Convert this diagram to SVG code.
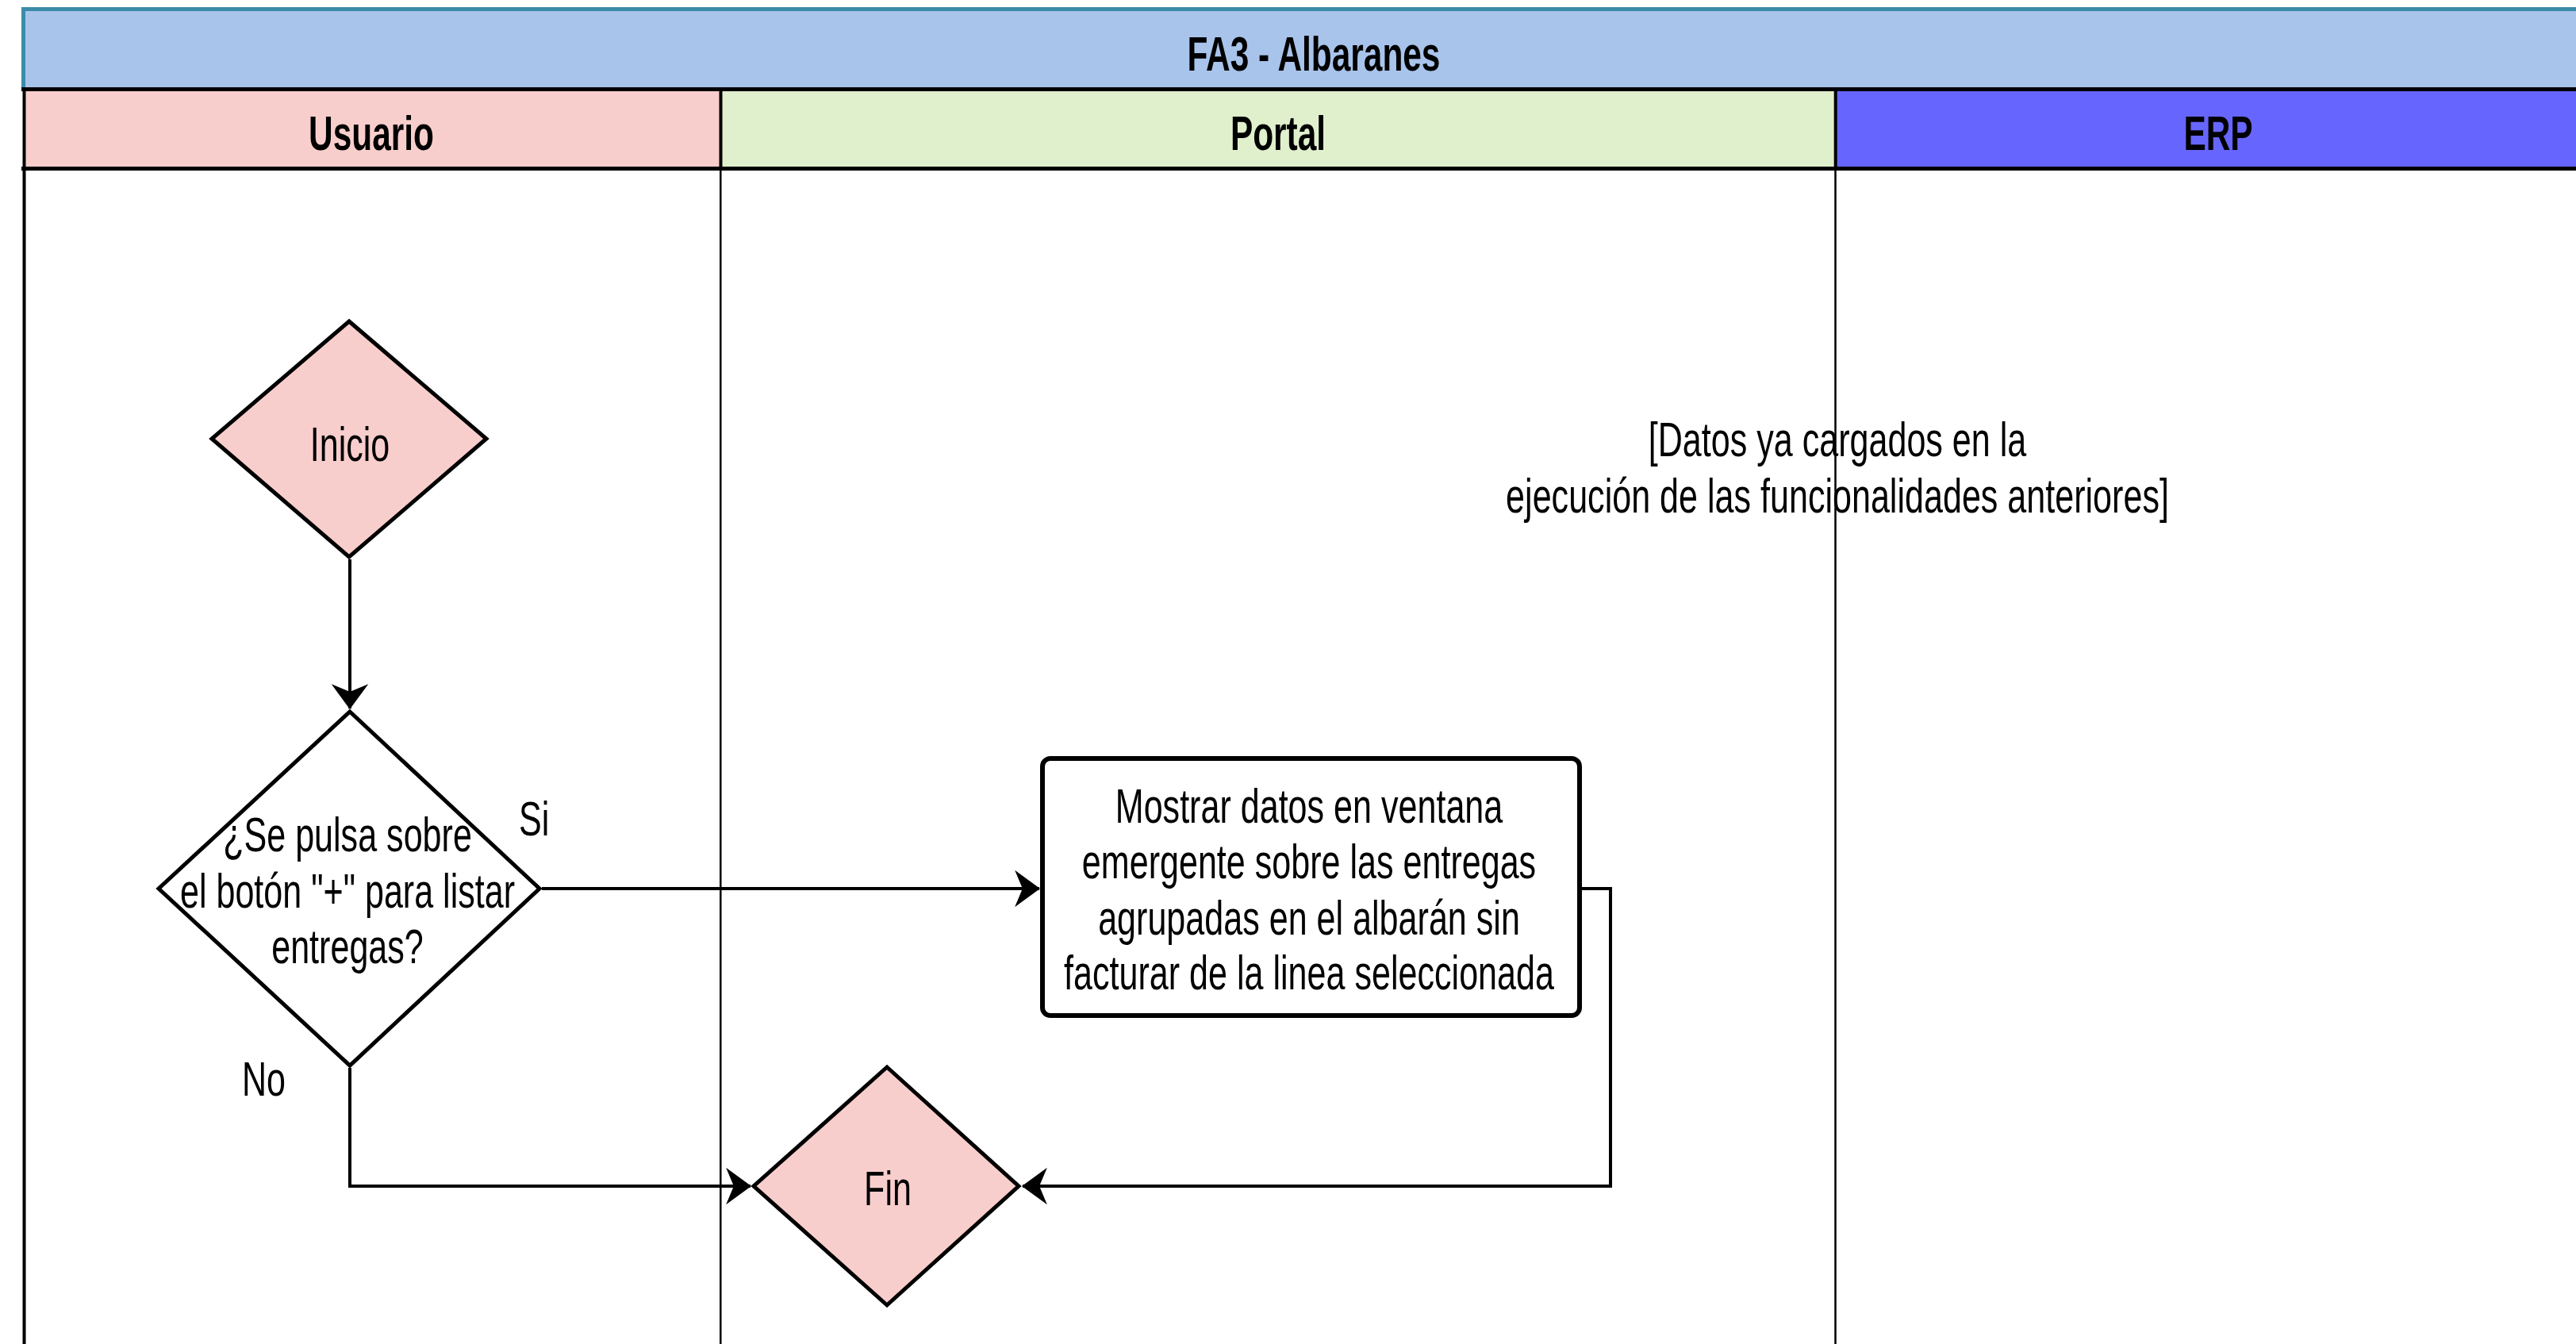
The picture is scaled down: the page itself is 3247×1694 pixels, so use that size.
<svg xmlns="http://www.w3.org/2000/svg" width="3247" height="1694" viewBox="0 0 3247 1694">
<style>
.t{font-family:"Liberation Sans",Arial,sans-serif;font-size:62px;fill:#000;text-anchor:middle}
.b{font-weight:bold}
.ln{stroke:#000;fill:none}
.con{stroke:#000;stroke-width:4;fill:none}
.dia{stroke:#000;stroke-width:5;stroke-linejoin:miter}
</style>
<defs>
<marker id="arr" markerUnits="userSpaceOnUse" markerWidth="40" markerHeight="50" viewBox="-30 -22 32 44" refX="0" refY="0" orient="auto">
<path d="M0,0 L-26,-19 L-18,0 L-26,19 Z" fill="#000" stroke="#000" stroke-width="1"/>
</marker>
</defs>
<rect width="3247" height="1694" fill="#fff"/>
<g id="pool">
<rect x="29.5" y="11.5" width="3260" height="101" fill="#A9C4EB" stroke="#3A8CA8" stroke-width="5"/>
<rect x="29.5" y="112.5" width="879" height="100" fill="#F8CECC"/>
<rect x="908.5" y="112.5" width="1405" height="100" fill="#E0EFCC"/>
<rect x="2313.5" y="112.5" width="980" height="100" fill="#6666FF"/>
<line class="ln" x1="27" y1="112.5" x2="3247" y2="112.5" stroke-width="5"/>
<line class="ln" x1="27" y1="212.5" x2="3247" y2="212.5" stroke-width="5"/>
<line class="ln" x1="30.5" y1="112" x2="30.5" y2="1694" stroke-width="4"/>
<line class="ln" x1="908.5" y1="112" x2="908.5" y2="213" stroke-width="4"/>
<line class="ln" x1="908.3" y1="213" x2="908.3" y2="1694" stroke-width="2.5"/>
<line class="ln" x1="2313.7" y1="112" x2="2313.7" y2="213" stroke-width="4"/>
<line class="ln" x1="2313.5" y1="213" x2="2313.5" y2="1694" stroke-width="2.5"/>
<text class="t b" transform="translate(1656,89) scale(0.684,1)">FA3 - Albaranes</text>
<text class="t b" transform="translate(468,189) scale(0.684,1)">Usuario</text>
<text class="t b" transform="translate(1611,189) scale(0.684,1)">Portal</text>
<text class="t b" transform="translate(2796,189) scale(0.684,1)">ERP</text>
</g>
<g id="connectors">
<path class="con" d="M441,705 L441,893" marker-end="url(#arr)"/>
<path class="con" d="M683,1120 L1310,1120" marker-end="url(#arr)"/>
<path class="con" d="M1994,1120 L2030,1120 L2030,1495 L1289,1495" marker-end="url(#arr)"/>
<path class="con" d="M441,1346 L441,1495 L946,1495" marker-end="url(#arr)"/>
<text class="t" style="text-anchor:start" transform="translate(654,1053) scale(0.695,1)">Si</text>
<text class="t" style="text-anchor:start" transform="translate(305,1381) scale(0.695,1)">No</text>
</g>
<g id="inicio">
<polygon class="dia" points="440,405 613,553 440,702 267,553" fill="#F8CECC"/>
<text class="t" transform="translate(441,581) scale(0.695,1)">Inicio</text>
</g>
<g id="decision">
<polygon class="dia" points="441,897 680,1120 441,1343 200,1120" fill="#fff"/>
<text class="t" transform="translate(438,0) scale(0.695,1)"><tspan x="0" y="1073">¿Se pulsa sobre</tspan><tspan x="0" y="1144">el botón "+" para listar</tspan><tspan x="0" y="1214">entregas?</tspan></text>
</g>
<g id="mostrar">
<rect x="1314" y="956" width="677" height="324" rx="10" ry="10" fill="#fff" stroke="#000" stroke-width="6"/>
<text class="t" transform="translate(1650,0) scale(0.695,1)"><tspan x="0" y="1037">Mostrar datos en ventana</tspan><tspan x="0" y="1107">emergente sobre las entregas</tspan><tspan x="0" y="1178">agrupadas en el albarán sin</tspan><tspan x="0" y="1247">facturar de la linea seleccionada</tspan></text>
</g>
<g id="fin">
<polygon class="dia" points="1118,1345 1284,1495 1118,1645 950,1495" fill="#F8CECC"/>
<text class="t" transform="translate(1119,1519) scale(0.695,1)">Fin</text>
</g>
<g id="nota">
<text class="t" transform="translate(2316,0) scale(0.695,1)"><tspan x="0" y="575">[Datos ya cargados en la</tspan><tspan x="0" y="646">ejecución de las funcionalidades anteriores]</tspan></text>
</g>
</svg>
